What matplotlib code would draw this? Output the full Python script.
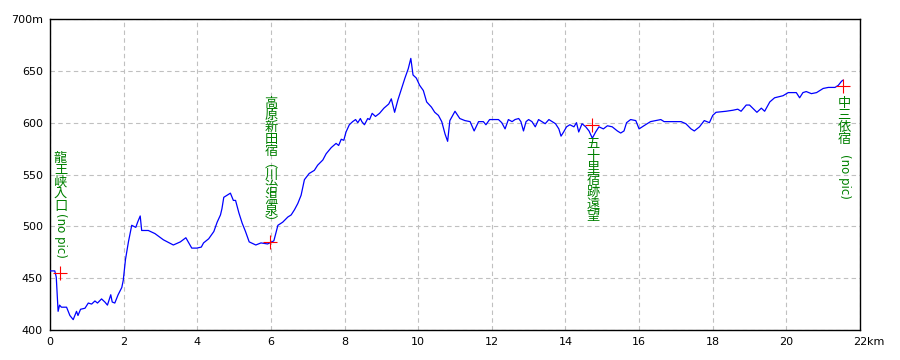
# -*- coding: utf-8 -*-

import matplotlib
matplotlib.use('Agg')
import matplotlib.pyplot as plt

# elevation profile (distance in km, elevation in m)
dist_km = [0.00, 0.13, 0.17, 0.22, 0.26, 0.31, 0.45, 0.54, 0.63, 0.72, 0.76, 0.83,
           0.95, 1.04, 1.13, 1.22, 1.29, 1.40, 1.49, 1.56, 1.65, 1.69, 1.76, 1.85,
           1.95, 1.99, 2.05, 2.13, 2.22, 2.33, 2.38, 2.45, 2.49, 2.67, 2.85, 3.08,
           3.35, 3.54, 3.69, 3.85, 3.99, 4.11, 4.17, 4.31, 4.45, 4.54, 4.63, 4.67,
           4.72, 4.81, 4.90, 4.98, 5.04, 5.13, 5.22, 5.31, 5.41, 5.59, 5.73, 5.91,
           6.08, 6.19, 6.32, 6.46, 6.55, 6.64, 6.73, 6.82, 6.91, 7.04, 7.18, 7.27,
           7.41, 7.50, 7.64, 7.77, 7.84, 7.91, 7.98, 8.04, 8.13, 8.22, 8.30, 8.36,
           8.43, 8.47, 8.54, 8.63, 8.68, 8.75, 8.84, 8.95, 9.07, 9.20, 9.27, 9.36,
           9.45, 9.55, 9.64, 9.73, 9.80, 9.86, 9.95, 10.04, 10.14, 10.23, 10.36,
           10.45, 10.55, 10.64, 10.73, 10.80, 10.86, 11.00, 11.13, 11.27, 11.41,
           11.52, 11.64, 11.77, 11.84, 11.94, 12.04, 12.18, 12.27, 12.36, 12.45,
           12.55, 12.63, 12.73, 12.79, 12.86, 12.93, 13.00, 13.09, 13.18, 13.27,
           13.36, 13.45, 13.55, 13.64, 13.73, 13.82, 13.88, 13.95, 14.03, 14.12,
           14.23, 14.30, 14.36, 14.45, 14.55, 14.64, 14.73, 14.82, 14.91, 15.03,
           15.14, 15.27, 15.41, 15.50, 15.59, 15.66, 15.77, 15.91, 16.00, 16.13,
           16.31, 16.59, 16.68, 16.91, 17.14, 17.27, 17.41, 17.50, 17.64, 17.77,
           17.91, 18.00, 18.09, 18.36, 18.55, 18.68, 18.77, 18.91, 19.00, 19.14,
           19.20, 19.32, 19.41, 19.55, 19.68, 19.91, 20.05, 20.27, 20.36, 20.45,
           20.54, 20.68, 20.82, 21.00, 21.14, 21.32, 21.41, 21.50, 21.54]
elev_m = [457, 457, 451, 418, 424, 422, 422, 414, 410, 418, 414, 420,
          421, 426, 425, 428, 426, 430, 427, 424, 434, 427, 426, 434,
          441, 448, 468, 485, 501, 499, 504, 510, 496, 496, 493, 487,
          482, 485, 489, 479, 479, 480, 484, 488, 495, 504, 511, 517,
          528, 530, 532, 525, 525, 513, 503, 495, 485, 482, 484, 483,
          486, 501, 504, 509, 511, 516, 522, 530, 545, 551, 554, 559,
          564, 570, 576, 580, 578, 584, 583, 591, 598, 601, 603, 600,
          604, 601, 598, 604, 603, 609, 606, 609, 614, 618, 623, 610,
          622, 633, 643, 652, 662, 646, 643, 636, 631, 620, 615,
          610, 607, 601, 589, 582, 602, 611, 604, 602, 601,
          592, 601, 601, 598, 603, 603, 603, 600, 594, 603,
          601, 603, 604, 601, 592, 601, 603, 601, 596, 603,
          601, 599, 603, 601, 599, 594, 587, 591, 596, 598,
          596, 600, 591, 599, 596, 592, 585, 591, 596, 594,
          597, 596, 592, 590, 592, 600, 603, 602, 594, 597,
          601, 603, 601, 601, 601, 599, 594, 592, 596, 602,
          600, 607, 610, 611, 612, 613, 611, 617, 617, 612,
          610, 614, 611, 620, 624, 626, 629, 629, 624, 629,
          630, 628, 629, 633, 634, 634, 636, 640, 641]

# photo points
point_km = [0.26, 5.98, 14.73, 21.54]
point_m = [455, 485, 598, 635]
# vertical labels: stacked kanji part + latin part (drawn rotated)
point_kanji = ['龍王峡入口', '高原新田宿︵川治温泉︶', '五十里宿跡遠望', '中三依宿']
point_latin = ['(no pic)', '', '', '(no pic)']
# pixel offsets from the marker: top of kanji column, start of latin part
kanji_top = [121, 145, -13, -11]
latin_top = [60, 0, 0, -68]

x_ticks = list(range(0, 23, 2))
x_labels = [str(v) for v in x_ticks[:-1]] + ['22']
y_ticks = list(range(400, 701, 50))
y_labels = [str(v) for v in y_ticks[:-1]] + ['700m']

GREEN = '#008000'
CJK = ['Noto Sans CJK JP', 'DejaVu Sans']
CJK_SIZE = 9.5
PITCH = 12  # px between stacked characters


fig = plt.figure(figsize=(9, 3.6), dpi=100, facecolor='white')
ax = fig.add_axes([50 / 900, 30 / 360, 810 / 900, 311 / 360])


def line_pitch(spacing):
    r = fig.canvas.get_renderer()
    one = fig.text(0, 0, '高', fontsize=CJK_SIZE, family=CJK, linespacing=spacing)
    two = fig.text(0, 0, '高\n高', fontsize=CJK_SIZE, family=CJK, linespacing=spacing)
    h = two.get_window_extent(r).height - one.get_window_extent(r).height
    one.remove()
    two.remove()
    return h


p0, p1 = line_pitch(0.0), line_pitch(1.0)
spacing = (PITCH - p0) / (p1 - p0)

ax.plot(dist_km, elev_m, color='#0000ff', lw=0.9, zorder=3)
ax.plot(point_km, point_m, ls='none', marker='+', ms=10, mew=0.8,
        color='#ff0000', zorder=4)

for x, y, kanji, latin, ktop, ltop in zip(point_km, point_m, point_kanji,
                                          point_latin, kanji_top, latin_top):
    ax.annotate('\n'.join(kanji), xy=(x, y), xytext=(1, ktop),
                textcoords='offset pixels', ha='center', va='top',
                multialignment='center', linespacing=spacing,
                color=GREEN, fontsize=CJK_SIZE, family=CJK, zorder=5)
    if latin:
        ax.annotate(latin, xy=(x, y), xytext=(1, ltop),
                    textcoords='offset pixels', ha='left', va='center',
                    rotation=-90, rotation_mode='anchor',
                    color=GREEN, fontsize=8.5, zorder=5)

ax.set_xlim(0, 22)
ax.set_ylim(400, 700)
ax.set_xticks(x_ticks)
ax.set_xticklabels(x_labels)
ax.set_yticks(y_ticks)
ax.set_yticklabels(y_labels)
ax.tick_params(length=0, labelsize=8, pad=5)
ax.annotate('km', xy=(22, 400), xytext=(5, -5), textcoords='offset points',
            ha='left', va='top', fontsize=8)

ax.grid(True, color='#c0c0c0', ls=(0, (4, 3)), lw=0.8)
ax.set_axisbelow(True)
for sp in ax.spines.values():
    sp.set_color('black')
    sp.set_linewidth(1.0)

fig.savefig('out.png', dpi=100)
